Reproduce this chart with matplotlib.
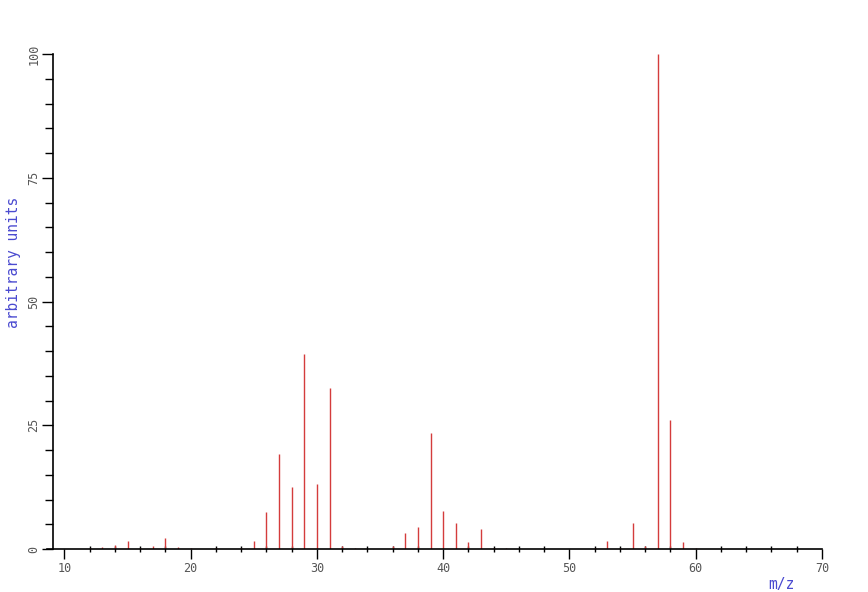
import numpy as np
import matplotlib
matplotlib.use('Agg')
import matplotlib.pyplot as plt
from matplotlib.ticker import MultipleLocator

# mass spectrum peaks (m/z, relative intensity)
mz = [12, 13, 14, 15, 16, 17, 18, 19, 20, 22, 24, 25, 26, 27, 28, 29, 30, 31,
      32, 33, 36, 37, 38, 39, 40, 41, 42, 43, 44, 45, 52, 53, 54, 55, 56, 57,
      58, 59, 60]
intensity = [0.3, 0.5, 0.9, 1.6, 0.3, 0.7, 2.3, 0.5, 0.2, 0.2, 0.3, 1.6, 7.4,
             19.1, 12.5, 39.4, 13.1, 32.5, 0.6, 0.2, 0.7, 3.2, 4.4, 23.4, 7.7,
             5.2, 1.4, 4.0, 0.3, 0.3, 0.3, 1.6, 0.3, 5.2, 0.7, 100.0,
             26.1, 1.5, 0.2]

xticks = [10, 20, 30, 40, 50, 60, 70]
yticks = [0, 25, 50, 75, 100]

mono = 'DejaVu Sans Mono'
red = '#d43c3c'
blue = '#4a4ad0'
grey = '#555555'

fig = plt.figure(figsize=(8.68, 5.92), dpi=100)
ax = fig.add_axes([53/868, 1 - 549/592, (822 - 53)/868, (549 - 54)/592])

ax.vlines(mz, 0, intensity, color=red, linewidth=1)

ax.set_xlim(9.1, 70)
ax.set_ylim(0, 100)

for s in ['top', 'right']:
    ax.spines[s].set_visible(False)
ax.spines['bottom'].set_bounds(8.65, 70)
ax.spines['left'].set_bounds(0, 100)
ax.spines['bottom'].set_linewidth(1.2)
ax.spines['left'].set_linewidth(1.2)

ax.set_xticks(xticks)
ax.xaxis.set_minor_locator(MultipleLocator(2))
ax.set_yticks(yticks)
ax.yaxis.set_minor_locator(MultipleLocator(5))

ax.tick_params(axis='x', which='major', direction='out', length=7, width=1,
               labelsize=8.5, labelcolor=grey, pad=2)
ax.tick_params(axis='x', which='minor', direction='inout', length=5, width=1)
ax.tick_params(axis='y', which='major', direction='out', length=8, width=1,
               labelsize=8.5, labelcolor=grey, labelrotation=90, pad=1)
ax.tick_params(axis='y', which='minor', direction='out', length=6, width=1)
for lab in ax.get_xticklabels() + ax.get_yticklabels():
    lab.set_family(mono)
for lab in ax.get_yticklabels():
    lab.set_va('center')

fig.text(14/868, 1 - 262/592, 'arbitrary units', rotation=90, color=blue,
         family=mono, fontsize=10.5, ha='center', va='center')
fig.text(781/868, 1 - 585/592, 'm/z', color=blue, family=mono,
         fontsize=10.5, ha='center', va='center')

fig.savefig('out.png', dpi=100)
